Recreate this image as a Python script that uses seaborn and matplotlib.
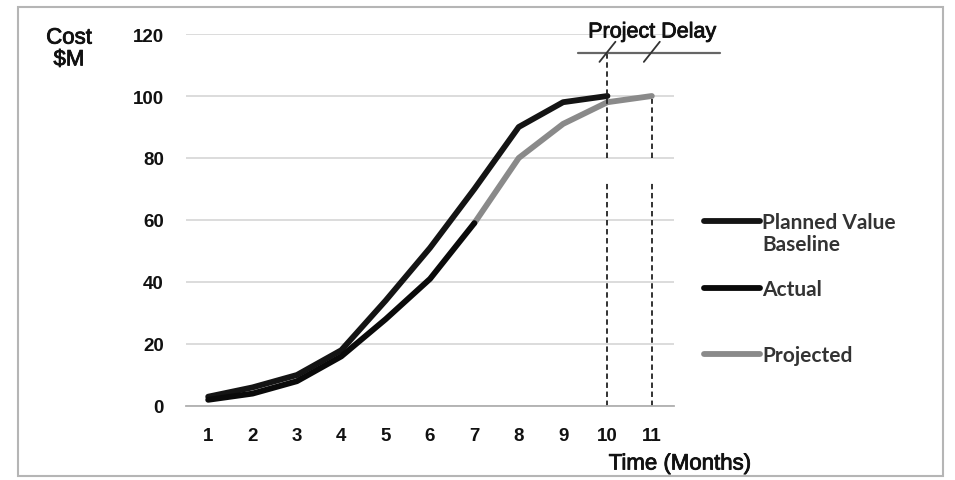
import matplotlib
matplotlib.use("Agg")
import matplotlib.pyplot as plt
from matplotlib.lines import Line2D
from matplotlib.patches import Rectangle
import matplotlib.patheffects as pe
import pandas as pd
import seaborn as sns

# ---- data ----
months = [1, 2, 3, 4, 5, 6, 7, 8, 9, 10, 11]
planned_months = [1, 2, 3, 4, 5, 6, 7, 8, 9, 10]
planned = [3, 6, 10, 18, 34, 51, 70, 90, 98, 100]
actual_months = [1, 2, 3, 4, 5, 6, 7]
actual = [2, 4, 8, 16, 28, 41, 59]
projected_months = [7, 8, 9, 10, 11]
projected = [59, 80, 91, 98, 100]
y_ticks = [0, 20, 40, 60, 80, 100, 120]
delay_months = [10, 11]
legend_labels = ["Planned Value\nBaseline", "Actual", "Projected"]

sns.set_style("white")
plt.rcParams["font.family"] = ["Liberation Sans", "DejaVu Sans"]

W, H = 955, 481
fig = plt.figure(figsize=(W / 100, H / 100), dpi=100)
fig.patch.set_facecolor("white")

def fx(px):
    return px / W

def fy(py):
    return 1 - py / H

ax = fig.add_axes([fx(186), fy(407), fx(674) - fx(186), fy(35) - fy(407)])

df = pd.concat([
    pd.DataFrame({"month": planned_months, "cost": planned, "series": "Planned"}),
    pd.DataFrame({"month": actual_months, "cost": actual, "series": "Actual"}),
    pd.DataFrame({"month": projected_months, "cost": projected, "series": "Projected"}),
])
colors = {"Planned": "#141414", "Actual": "#0a0a0a", "Projected": "#8a8a8a"}
sns.lineplot(data=df, x="month", y="cost", hue="series", palette=colors,
             linewidth=4.2, legend=False, ax=ax, sort=False,
             hue_order=["Projected", "Planned", "Actual"])
for ln in ax.get_lines():
    ln.set_solid_capstyle("round")
    ln.set_solid_joinstyle("round")

ax.set_xlim(0.5, 11.5)
ax.set_ylim(0, 120)
ax.set_yticks(y_ticks)
ax.set_xticks(months)
ax.set_xticks([m + 0.5 for m in [0] + months], minor=True)
ax.set_xlabel("")
ax.set_ylabel("")
ax.grid(axis="y", color="#d9d9d9", linewidth=1.3)
ax.grid(axis="x", visible=False)
ax.set_axisbelow(True)
for s in ["left", "right", "top"]:
    ax.spines[s].set_visible(False)
ax.spines["bottom"].set_color("#b0b0b0")
ax.spines["bottom"].set_linewidth(1.3)
ax.tick_params(axis="x", which="major", length=0, pad=15)
ax.tick_params(axis="x", which="minor", length=5, color="#b0b0b0", width=1.2, direction="out")
ax.tick_params(axis="y", length=0, pad=16)
for lab in ax.get_xticklabels() + ax.get_yticklabels():
    lab.set_fontsize(13.5)
    lab.set_fontweight("bold")
    lab.set_color("#111111")

# delay dashed markers
dash = dict(color="#222222", linewidth=1.3, linestyle=(0, (3, 2)), clip_on=False)
ax.plot([delay_months[0]] * 2, [0, 72], **dash)
ax.plot([delay_months[0]] * 2, [80, 114], **dash)
ax.plot([delay_months[1]] * 2, [0, 72], **dash)
ax.plot([delay_months[1]] * 2, [80, 99], **dash)
ax.plot([9.33, 12.53], [114, 114], color="#666666", linewidth=1.6, clip_on=False)
for m in delay_months:
    ax.plot([m - 0.18, m + 0.18], [111, 117.5], color="#333333", linewidth=1.3, clip_on=False)

heavy = [pe.withStroke(linewidth=0.6, foreground="#111111")]
fig.text(fx(652), fy(33), "Project Delay", ha="center", va="center", fontsize=15.5,
         color="#111111", path_effects=heavy)
fig.text(fx(69), fy(50), "Cost\n$M", ha="center", va="center", fontsize=16,
         color="#111111", linespacing=1.05, path_effects=heavy)
fig.text(fx(680), fy(465), "Time (Months)", ha="center", va="center", fontsize=16,
         color="#111111", path_effects=heavy)

# legend
leg_y = [222, 289, 355]
text_y = [234, 290, 356]
leg_c = ["#141414", "#0a0a0a", "#8a8a8a"]
for yy, ty, c, lab in zip(leg_y, text_y, leg_c, legend_labels):
    fig.add_artist(Line2D([fx(704), fx(760)], [fy(yy), fy(yy)], color=c, linewidth=4.2,
                          solid_capstyle="round"))
    fig.text(fx(762), fy(ty), lab, ha="left", va="center",
             fontsize=15, fontweight="bold", color="#333333",
             family=["Lato", "DejaVu Sans"], linespacing=1.15)

fig.add_artist(Rectangle((fx(18), fy(477)), fx(943) - fx(18), fy(8) - fy(477),
                         fill=False, edgecolor="#b5b5b5", linewidth=1.5))

fig.savefig("out.png", dpi=100, facecolor="white")
